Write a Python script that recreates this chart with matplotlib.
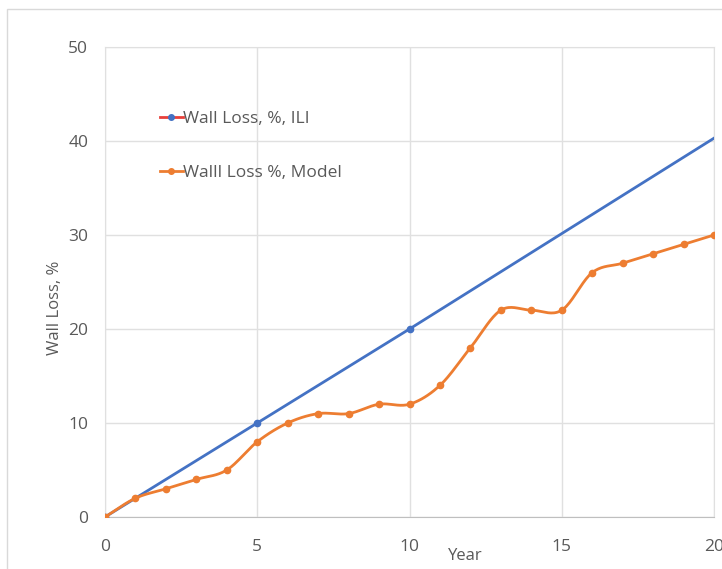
import numpy as np
import matplotlib
matplotlib.use("Agg")
import matplotlib.pyplot as plt
from matplotlib.lines import Line2D
from matplotlib.patches import Rectangle

# data
ili_years = [0, 5, 10, 20]
ili_loss = [0, 10, 20, 40.3]
model_years = list(range(0, 21))
model_loss = [0, 2, 3, 4, 5, 8, 10, 11, 11, 12, 12, 14, 18, 22, 22, 22, 26, 27, 28, 29, 30]

BLUE = "#4472C4"
ORANGE = "#ED7D31"
GRID = "#E0E0E0"
TEXT = "#595959"


def smooth(xs, ys, n=20):
    """Catmull-Rom curve through the points, like Excel's smoothed line."""
    xs = np.asarray(xs, float)
    ys = np.asarray(ys, float)
    px = np.concatenate([[2 * xs[0] - xs[1]], xs, [2 * xs[-1] - xs[-2]]])
    py = np.concatenate([[2 * ys[0] - ys[1]], ys, [2 * ys[-1] - ys[-2]]])
    out_x, out_y = [], []
    t = np.linspace(0, 1, n, endpoint=False)
    for i in range(1, len(px) - 2):
        for arr, out in ((px, out_x), (py, out_y)):
            p0, p1, p2, p3 = arr[i - 1], arr[i], arr[i + 1], arr[i + 2]
            out.extend(0.5 * ((2 * p1) + (-p0 + p2) * t
                              + (2 * p0 - 5 * p1 + 4 * p2 - p3) * t ** 2
                              + (-p0 + 3 * p1 - 3 * p2 + p3) * t ** 3))
    out_x.append(xs[-1])
    out_y.append(ys[-1])
    return np.array(out_x), np.array(out_y)


plt.rcParams["font.family"] = ["Open Sans", "DejaVu Sans"]

fig = plt.figure(figsize=(7.22, 5.69), dpi=100)
fig.patches.append(Rectangle((7 / 722, -0.1), 1.2, 1 - 9 / 569 + 0.1, transform=fig.transFigure,
                             fill=False, edgecolor="#D9D9D9", linewidth=1.0))

ax = fig.add_axes([105 / 722, 1 - 517 / 569, (714 - 105) / 722, (517 - 47) / 569])

ax.plot(ili_years, ili_loss, color=BLUE, linewidth=2.0, marker="o", markersize=4.5,
        markevery=[0, 1, 2], zorder=3)
sx, sy = smooth(model_years, model_loss)
ax.plot(sx, sy, color=ORANGE, linewidth=2.0, zorder=3)
ax.plot(model_years, model_loss, linestyle="none", marker="o", markersize=4.5, color=ORANGE, zorder=4)

ax.set_xlim(0, 20)
ax.set_ylim(0, 50)
ax.set_xticks([0, 5, 10, 15, 20])
ax.set_yticks([0, 10, 20, 30, 40, 50])
ax.grid(True, color=GRID, linewidth=1.0)
ax.set_axisbelow(True)
for side in ["top", "right", "left"]:
    ax.spines[side].set_color(GRID)
ax.spines["bottom"].set_color("#BFBFBF")
ax.tick_params(length=0, labelsize=12.5, colors=TEXT, pad=12)
ax.tick_params(axis="x", pad=16)

fig.text(55 / 722, 1 - 308 / 569, "Wall Loss, %", rotation=90, fontsize=12,
         color=TEXT, ha="center", va="center")
fig.text(465 / 722, 1 - 556 / 569, "Year", fontsize=12,
         color=TEXT, ha="center", va="center")

handles = [
    Line2D([], [], color="#E8403A", linewidth=2.0, marker="o", markersize=4,
           markerfacecolor=BLUE, markeredgecolor=BLUE),
    Line2D([], [], color=ORANGE, linewidth=2.0, marker="o", markersize=4),
]
ax.legend(handles, ["Wall Loss, %, ILI", "Walll Loss %, Model"], loc="upper left",
          bbox_to_anchor=(0.065, 0.898), frameon=False, fontsize=12.5, labelcolor=TEXT,
          handlelength=1.3, handletextpad=0.0, labelspacing=2.2)

fig.savefig("out.png", dpi=100)
